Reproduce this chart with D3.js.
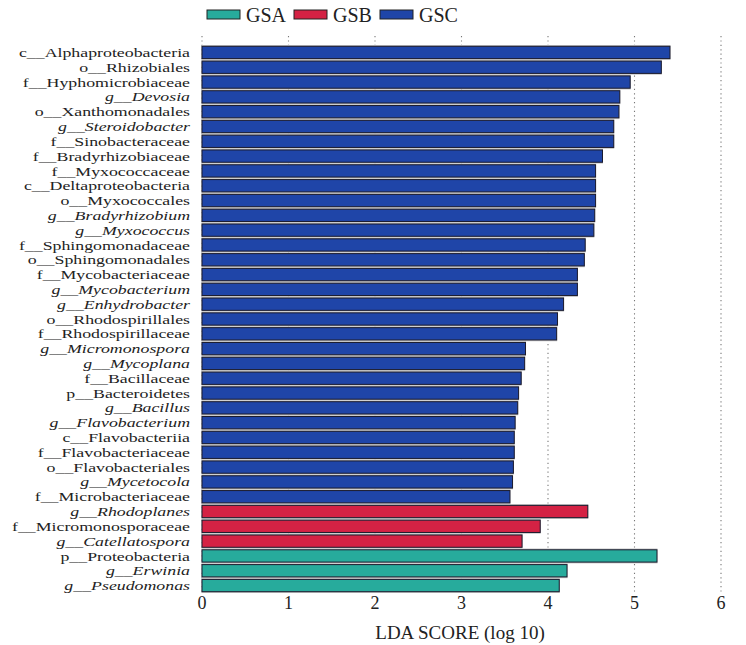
<!DOCTYPE html>
<html>
<head>
<meta charset="utf-8">
<script src="https://cdn.jsdelivr.net/npm/d3@7"></script>
<style>
  html, body { margin: 0; padding: 0; background: #fff; }
  svg { display: block; }
</style>
</head>
<body>
<svg id="chart" width="746" height="645" font-family="'Liberation Serif', 'Times New Roman', 'DejaVu Serif', serif"></svg>
<script>
// Taxon rank prefix and name, top to bottom
const ranks = ["c","o","f","g","o","g","f","f","f","c","o","g","g","f","o","f","g","g","o","f",
  "g","g","f","p","g","g","c","f","o","g","f","g","f","g","p","g","g"];
const taxa = ["Alphaproteobacteria","Rhizobiales","Hyphomicrobiaceae","Devosia","Xanthomonadales",
  "Steroidobacter","Sinobacteraceae","Bradyrhizobiaceae","Myxococcaceae","Deltaproteobacteria",
  "Myxococcales","Bradyrhizobium","Myxococcus","Sphingomonadaceae","Sphingomonadales",
  "Mycobacteriaceae","Mycobacterium","Enhydrobacter","Rhodospirillales","Rhodospirillaceae",
  "Micromonospora","Mycoplana","Bacillaceae","Bacteroidetes","Bacillus","Flavobacterium",
  "Flavobacteriia","Flavobacteriaceae","Flavobacteriales","Mycetocola","Microbacteriaceae",
  "Rhodoplanes","Micromonosporaceae","Catellatospora","Proteobacteria","Erwinia","Pseudomonas"];
// LDA score (log 10) per taxon
const ldaScores = [5.41,5.31,4.95,4.83,4.82,4.76,4.76,4.63,4.55,4.55,4.55,4.54,4.53,4.43,4.42,
  4.34,4.34,4.18,4.11,4.10,3.74,3.73,3.69,3.66,3.65,3.62,3.61,3.61,3.60,3.59,3.56,
  4.46,3.91,3.70,5.26,4.22,4.13];
// Group enriched in each taxon
const groupOf = ["GSC","GSC","GSC","GSC","GSC","GSC","GSC","GSC","GSC","GSC","GSC","GSC","GSC",
  "GSC","GSC","GSC","GSC","GSC","GSC","GSC","GSC","GSC","GSC","GSC","GSC","GSC","GSC","GSC",
  "GSC","GSC","GSC","GSB","GSB","GSB","GSA","GSA","GSA"];
const groups = ["GSA","GSB","GSC"];
const groupColors = ["#27ab9c","#d42244","#1f45a8"];
const xTicks = [0,1,2,3,4,5,6];

const rows = taxa.map((t, i) => ({ rank: ranks[i], name: t, value: ldaScores[i], group: groupOf[i] }));

const svg = d3.select("#chart");
const plotLeft = 202, plotRight = 721, plotTop = 46, plotBottom = 592;
const ink = "#222";

const x = d3.scaleLinear().domain([0, 6]).range([plotLeft, plotRight]);
const y = d3.scaleBand().domain(d3.range(rows.length)).range([plotTop, plotBottom]).paddingInner(0.17).paddingOuter(0.02);
const color = d3.scaleOrdinal().domain(groups).range(groupColors);

// Dotted vertical grid lines
svg.append("g").selectAll("line").data(xTicks).join("line")
  .attr("x1", d => x(d)).attr("x2", d => x(d))
  .attr("y1", 36).attr("y2", 594)
  .attr("stroke", "#777").attr("stroke-width", 1.1)
  .attr("stroke-dasharray", "1.2,3.2");

// Light grey halo around each bar
const bars = svg.append("g");
bars.selectAll("rect.halo").data(rows).join("rect")
  .attr("class", "halo")
  .attr("x", x(0) - 0.5)
  .attr("y", (d, i) => y(i) - 1.3)
  .attr("width", d => x(d.value) - x(0) + 1)
  .attr("height", y.bandwidth() + 2.6)
  .attr("fill", "#c4c4c4");

bars.selectAll("rect.bar").data(rows).join("rect")
  .attr("class", "bar")
  .attr("x", x(0))
  .attr("y", (d, i) => y(i))
  .attr("width", d => x(d.value) - x(0))
  .attr("height", y.bandwidth())
  .attr("fill", d => color(d.group))
  .attr("stroke", "#1b1b2e").attr("stroke-width", 1);

// Taxon labels, set wide to fill the left margin; genera are in italics
svg.append("g").selectAll("text").data(rows).join("text")
  .attr("transform", (d, i) => `translate(190,${y(i) + y.bandwidth() / 2}) scale(1.32,1)`)
  .attr("dy", "0.34em")
  .attr("text-anchor", "end")
  .attr("font-size", 13.5)
  .attr("fill", ink)
  .attr("font-style", d => d.rank === "g" ? "italic" : "normal")
  .text(d => `${d.rank}__${d.name}`);

// X axis tick labels
svg.append("g").selectAll("text").data(xTicks).join("text")
  .attr("x", d => x(d)).attr("y", 609)
  .attr("text-anchor", "middle").attr("font-size", 18).attr("fill", ink)
  .text(d => d3.format("d")(d));

svg.append("text")
  .attr("x", 460).attr("y", 639)
  .attr("text-anchor", "middle").attr("font-size", 19).attr("fill", ink)
  .text("LDA SCORE (log 10)");

// Legend
const legendX = [207, 294, 380];
const legend = svg.append("g").selectAll("g").data(groups).join("g")
  .attr("transform", (d, i) => `translate(${legendX[i]},0)`);
legend.append("rect")
  .attr("x", 0).attr("y", 10).attr("width", 33).attr("height", 9)
  .attr("fill", d => color(d)).attr("stroke", ink).attr("stroke-width", 1);
legend.append("text")
  .attr("x", 39).attr("y", 22).attr("font-size", 20).attr("fill", ink)
  .text(d => d);
</script>
</body>
</html>
